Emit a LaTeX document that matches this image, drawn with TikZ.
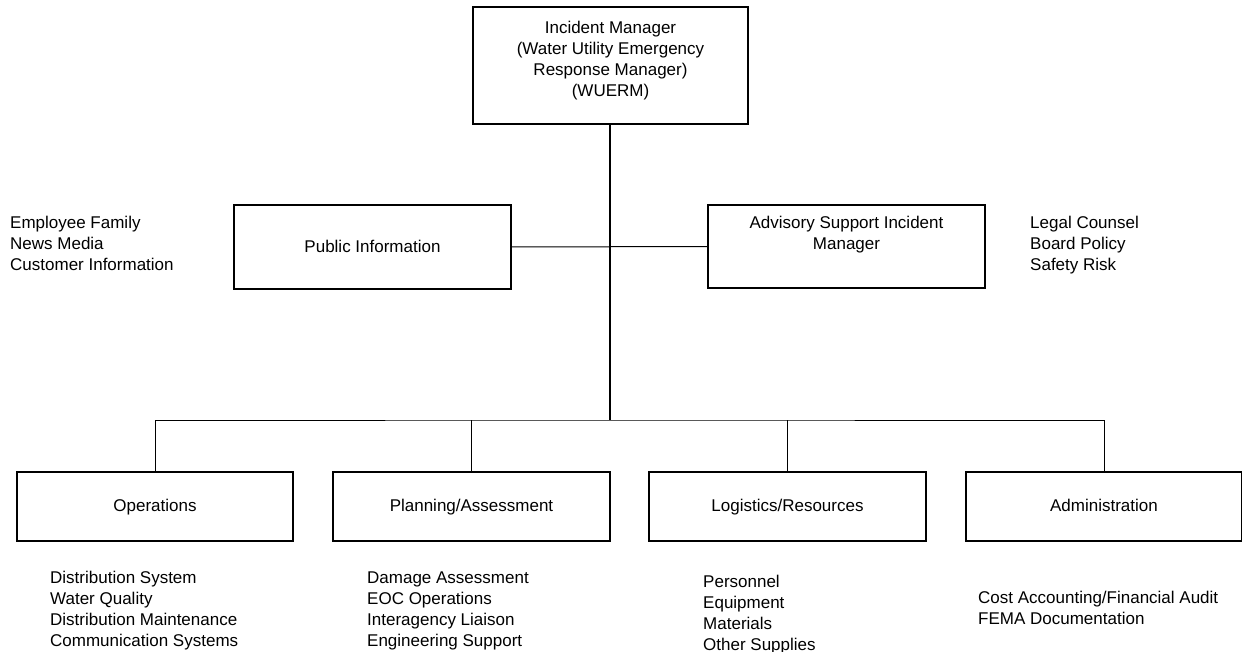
\documentclass[tikz,border=0pt]{standalone}
\usepackage{fontspec}
\setmainfont{Liberation Sans}
\begin{document}
\begin{tikzpicture}[x=1pt,y=-1pt,
  box/.style={draw=black, line width=1.1pt, rectangle, inner sep=0pt},
  conn/.style={draw=black, line width=1pt},
  trunk/.style={draw=black, line width=2.6pt},
  txt/.style={inner sep=0pt, font=\fontsize{17}{21}\selectfont, align=center},
  one/.style={txt, text height=12.5pt, text depth=3.5pt},
  list/.style={inner sep=0pt, font=\fontsize{17}{21}\selectfont, align=left, anchor=west}]
\useasboundingbox (0,0) rectangle (1242,652);
% top
\node[box, minimum width=275pt, minimum height=117pt] (im) at (610.5,65.5) {};
\node[txt] (imt) at (610.5,60.5) {Incident Manager\\(Water Utility Emergency\\Response Manager)\\(WUERM)};
% middle
\node[box, minimum width=277pt, minimum height=84pt] (pi) at (372.5,247) {};
\node[one] (pit) at (372.5,248) {Public Information};
\node[box, minimum width=277pt, minimum height=83pt] (as) at (846.5,246.5) {};
\node[txt] (ast) at (846.5,235) {Advisory Support Incident\\Manager};
\node[list] (pil) at (10,243.5) {Employee Family\\News Media\\Customer Information};
\node[list] (asl) at (1030,245.5) {Legal Counsel\\Board Policy\\Safety Risk};
% bottom boxes
\node[box, minimum width=276pt, minimum height=69pt] (ops) at (155,506.5) {};
\node[one] at (155,507) {Operations};
\node[box, minimum width=277pt, minimum height=69pt] (pla) at (471.5,506.5) {};
\node[one] at (471.5,507) {Planning/Assessment};
\node[box, minimum width=277pt, minimum height=69pt] (log) at (787.5,506.5) {};
\node[one] at (787.5,507) {Logistics/Resources};
\node[box, minimum width=276pt, minimum height=69pt] (adm) at (1104,506.5) {};
\node[one] at (1104,507) {Administration};
% lists
\node[list] (opsl) at (50,610.5) {Distribution System\\Water Quality\\Distribution Maintenance\\Communication Systems};
\node[list] (plal) at (367,610.5) {Damage Assessment\\EOC Operations\\Interagency Liaison\\Engineering Support};
\node[list] (logl) at (703,614.5) {Personnel\\Equipment\\Materials\\Other Supplies};
\node[list] (adml) at (978,607.5) {Cost Accounting/Financial Audit\\FEMA Documentation};
% connectors
\coordinate (bus) at (610,420);
\draw[conn] (pi.east) -- (as.west);
\draw[trunk] (im.south -| bus) -- (bus);
\draw[conn] (ops.north) |- (bus) -| (adm.north);
\draw[conn] (pla.north) -- (pla.north |- bus);
\draw[conn] (log.north) -- (log.north |- bus);
\end{tikzpicture}
\end{document}
